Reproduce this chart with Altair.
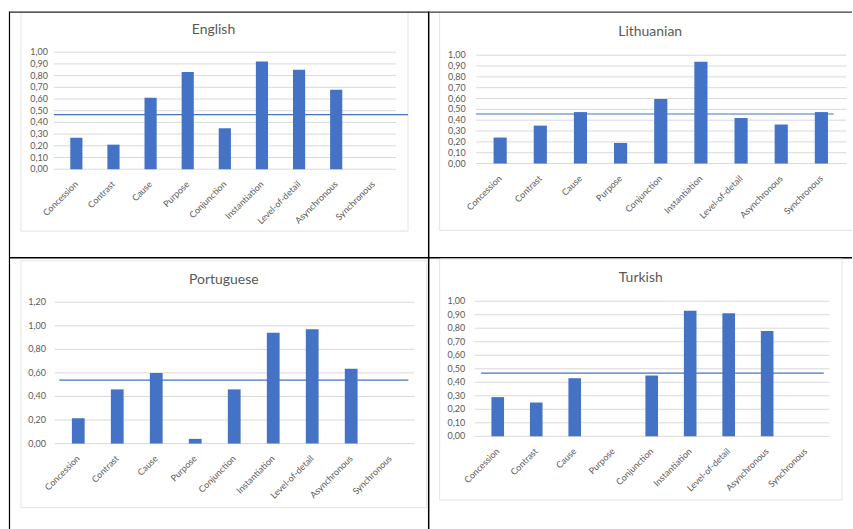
import altair as alt
import pandas as pd

categories = ["Concession", "Contrast", "Cause", "Purpose", "Conjunction",
              "Instantiation", "Level-of-detail", "Asynchronous", "Synchronous"]

english = [0.27, 0.21, 0.61, 0.83, 0.35, 0.92, 0.85, 0.68, None]
lithuanian = [0.24, 0.35, 0.475, 0.19, 0.595, 0.94, 0.42, 0.36, 0.475]
portuguese = [0.215, 0.46, 0.60, 0.04, 0.46, 0.94, 0.97, 0.635, None]
turkish = [0.29, 0.25, 0.43, None, 0.45, 0.93, 0.91, 0.78, None]

ref_english = 0.466
ref_lithuanian = 0.457
ref_portuguese = 0.539
ref_turkish = 0.468

ticks_tenths = [0.0, 0.1, 0.2, 0.3, 0.4, 0.5, 0.6, 0.7, 0.8, 0.9, 1.0]
labels_tenths = ["0,00", "0,10", "0,20", "0,30", "0,40", "0,50",
                 "0,60", "0,70", "0,80", "0,90", "1,00"]
ticks_fifths = [0.0, 0.2, 0.4, 0.6, 0.8, 1.0, 1.2]
labels_fifths = ["0,00", "0,20", "0,40", "0,60", "0,80", "1,00", "1,20"]

FONT = "Lato"
TEXT = "#595959"
GRID = "#d9d9d9"
BOX = "#e3e3e3"
BLUE = "#4472C4"
ONE = alt.Data(values=[{}])
N = len(categories)
BAR_FRAC = 0.32


def seg(x1, y1, x2, y2, color, w):
    if x1 == x2:
        enc = dict(x=alt.value(x1), y=alt.value(y1), y2=alt.value(y2))
    else:
        enc = dict(x=alt.value(x1), x2=alt.value(x2), y=alt.value(y1))
    return alt.Chart(ONE).mark_rule(color=color, strokeWidth=w).encode(**enc)


def panel(title, values, ref, ticks, labels, ymax, g, w, h, decor):
    # y: linear scale over the full cell height; 0 -> g["y0"], ymax -> g["y1"]
    k = (g["y0"] - g["y1"]) / ymax
    dmax = ymax + g["y1"] / k
    dmin = dmax - h / k
    yscale = alt.Scale(domain=[dmin, dmax], nice=False, zero=False)
    # x: category position (0..N-1) over the full cell width,
    # category i centred in the i-th ninth of [gx0, gx1]
    s = (g["gx1"] - g["gx0"]) / N
    xmin = -(g["gx0"] + 0.5 * s) / s
    xmax = xmin + w / s
    xscale = alt.Scale(domain=[xmin, xmax], nice=False, zero=False)

    bars_df = pd.DataFrame({"cat": categories, "pos": list(range(N)), "value": values})
    ticks_df = pd.DataFrame({"t": ticks, "label": labels})
    ref_df = pd.DataFrame({"ref": [ref]})

    grid = alt.Chart(ticks_df).mark_rule(color=GRID, strokeWidth=1).encode(
        y=alt.Y("t:Q", scale=yscale, axis=None),
        x=alt.value(g["gx0"]), x2=alt.value(g["gx1"]))
    ylab = alt.Chart(ticks_df).mark_text(
        align="right", baseline="middle", font=FONT, fontSize=9, color=TEXT
    ).encode(y=alt.Y("t:Q", scale=yscale, axis=None),
             x=alt.value(g["lx"]), text="label:N")
    bars = alt.Chart(bars_df).transform_filter("isValid(datum.value)").mark_bar(
        color=BLUE, width=BAR_FRAC * s).encode(
        x=alt.X("pos:Q", scale=xscale, axis=None),
        y=alt.Y("value:Q", scale=yscale, axis=None),
        y2=alt.datum(0))
    xlab = alt.Chart(bars_df).mark_text(
        align="right", baseline="middle", angle=315, font=FONT, fontSize=9,
        color=TEXT
    ).encode(x=alt.X("pos:Q", scale=xscale, axis=None),
             y=alt.value(g["y0"] + 13.5), text="cat:N")
    refl = alt.Chart(ref_df).mark_rule(color=BLUE, strokeWidth=1.2).encode(
        y=alt.Y("ref:Q", scale=yscale, axis=None),
        x=alt.value(g["ax0"]), x2=alt.value(g["ax1"]))
    ttl = alt.Chart(ONE).mark_text(
        font=FONT, fontSize=14, color=TEXT, baseline="middle", align="center"
    ).encode(x=alt.value(g["tx"]), y=alt.value(g["ty"]), text=alt.value(title))

    layers = decor + [grid, ylab, bars, refl, xlab, ttl]
    return alt.layer(*layers).properties(width=w, height=h)


W1, W2, H1, H2 = 421, 424, 247, 272

en = panel("English", english, ref_english, ticks_tenths, labels_tenths, 1.0,
           dict(y0=158, y1=40.7, gx0=45, gx1=388, lx=39, ax0=45, ax1=400,
                tx=205, ty=18), W1, H1,
           [seg(12, 0, 12, 220, BOX, 1), seg(12, 220, 400, 220, BOX, 1),
            seg(400, 0, 400, 220, BOX, 1),
            seg(0.5, 0, 0.5, H1, "black", 1.2), seg(0, 0.5, W1, 0.5, "#222222", 1.2),
            seg(420.7, 0, 420.7, H1, "black", 1.5),
            seg(0, 246.7, W1, 246.7, "black", 1.5)])

lt = panel("Lithuanian", lithuanian, ref_lithuanian, ticks_tenths, labels_tenths, 1.0,
           dict(y0=152.3, y1=43.7, gx0=47.3, gx1=418.3, lx=36.7, ax0=47, ax1=405.7,
                tx=221.7, ty=20), W2, H1,
           [seg(10.7, 0, 10.7, 219.3, BOX, 1), seg(10.7, 219.3, W2, 219.3, BOX, 1),
            seg(0, 0.5, W2, 0.5, "#3a3a3a", 1.2),
            seg(0, 246.7, W2, 246.7, "black", 1.5)])

pt = panel("Portuguese", portuguese, ref_portuguese, ticks_fifths, labels_fifths, 1.2,
           dict(y0=186, y1=44.3, gx0=46, gx1=406.3, lx=37, ax0=50.3, ax1=400.3,
                tx=215.3, ty=21.7), W1, H2,
           [seg(12, 2.7, 12, 250.3, BOX, 1), seg(12, 250.3, 418.7, 250.3, BOX, 1),
            seg(418.7, 2.7, 418.7, 250.3, BOX, 1), seg(12, 2.7, 418.7, 2.7, BOX, 1),
            seg(0.5, 0, 0.5, H2, "black", 1.2),
            seg(420.7, 0, 420.7, H2, "black", 1.5)])

tr = panel("Turkish", turkish, ref_turkish, ticks_tenths, labels_tenths, 1.0,
           dict(y0=178.7, y1=43.3, gx0=45.7, gx1=401.3, lx=36.3, ax0=52.3, ax1=395.7,
                tx=212.3, ty=20.3), W2, H2,
           [seg(10.7, 1, 10.7, 242.5, BOX, 1), seg(10.7, 242.5, 414, 242.5, BOX, 1),
            seg(414, 1, 414, 242.5, BOX, 1), seg(10.7, 1, 414, 1, BOX, 1)])

chart = alt.concat(en, lt, pt, tr, columns=2, spacing=0, bounds="flush").properties(
    padding={"left": 8, "top": 10, "right": 0, "bottom": 0},
    background="white"
).configure_view(stroke=None)

chart.save("out.html", embed_options={"renderer": "svg", "actions": False})
